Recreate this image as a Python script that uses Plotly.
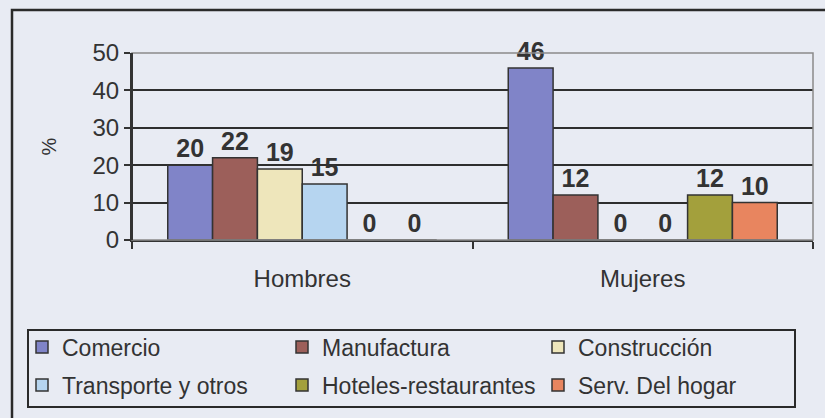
import plotly.graph_objects as go

categories = ["Hombres", "Mujeres"]
series_names = ["Comercio", "Manufactura", "Construcción",
                "Transporte y otros", "Hoteles-restaurantes", "Serv. Del hogar"]
comercio = [20, 46]
manufactura = [22, 12]
construccion = [19, 0]
transporte = [15, 0]
hoteles = [0, 12]
serv_hogar = [0, 10]
series_values = [comercio, manufactura, construccion, transporte, hoteles, serv_hogar]
colors = ["#8084c8", "#9c5f5a", "#eee6bb", "#b6d5f0", "#a3a03c", "#e8855f"]
y_ticks = [0, 10, 20, 30, 40, 50]

BG = "#e8ebf3"
W, H = 825, 418
L, R, T, B = 132, 12, 53, 178
pw, ph = W - L - R, H - T - B


def px(x):
    return (x - L) / pw


def py(y):
    return (H - B - y) / ph


FONT = "Liberation Sans, Arial"
# legend item positions (text start x, row centre y) in pixels
legend_pos = [(62, 347), (322, 347), (578, 347), (62, 385), (322, 385), (578, 385)]
legend_ids = ["legend", "legend2", "legend3", "legend4", "legend5", "legend6"]

fig = go.Figure()
for i, (name, vals, col) in enumerate(zip(series_names, series_values, colors)):
    fig.add_trace(go.Bar(
        x=categories, y=vals, name=name,
        marker=dict(color=col, line=dict(color="#333333", width=1.5)),
        text=[str(v) for v in vals], textposition="outside",
        textfont=dict(family=FONT, size=25, color="#333333", weight="bold"),
        cliponaxis=False, showlegend=True,
        legend=legend_ids[i],
    ))

legend_layout = {}
for lid, (tx, ty) in zip(legend_ids, legend_pos):
    legend_layout[lid] = dict(
        orientation="h", xanchor="left", yanchor="middle",
        x=px(tx - 40), y=py(ty),
        bgcolor="rgba(0,0,0,0)", borderwidth=0,
        font=dict(family=FONT, size=23, color="#333333"),
        itemclick=False, visible=True,
    )

fig.update_layout(
    width=W, height=H,
    showlegend=True,
    margin=dict(l=L, r=R, t=T, b=B, autoexpand=False),
    paper_bgcolor=BG, plot_bgcolor=BG,
    barmode="group", bargap=0.21, bargroupgap=0,
    font=dict(family=FONT, size=23, color="#333333"),
    **legend_layout,
    xaxis=dict(
        showline=True, linecolor="#333333", linewidth=2,
        ticks="outside", tickson="boundaries", ticklen=7, tickwidth=2,
        tickcolor="#333333", showgrid=False,
        ticklabelstandoff=16,
        tickfont=dict(size=24, color="#333333"),
    ),
    yaxis=dict(
        range=[0, 50], tickvals=y_ticks,
        showline=True, linecolor="#333333", linewidth=2,
        ticks="outside", ticklen=6, tickwidth=2, tickcolor="#333333",
        showgrid=True, gridcolor="#2e2e2e", gridwidth=1.5,
        zeroline=False,
        tickfont=dict(size=24, color="#333333"),
        title=dict(text="%", standoff=30, font=dict(size=20, color="#333333")),
    ),
    shapes=[
        # plot area border (light gray)
        dict(type="rect", xref="paper", yref="paper", x0=0, x1=1, y0=0, y1=1,
             line=dict(color="#8a8a8a", width=1.5), layer="above"),
        # legend box
        dict(type="rect", xref="paper", yref="paper",
             x0=px(28), x1=px(795), y0=py(407), y1=py(330),
             line=dict(color="#2a2a2a", width=2), layer="below"),
        # outer frame
        dict(type="rect", xref="paper", yref="paper",
             x0=px(12), x1=px(840), y0=py(430), y1=py(10),
             line=dict(color="#2a2a2a", width=2.5), layer="below"),
    ],
)
# redraw y-axis line over border
fig.add_shape(type="line", xref="paper", yref="paper", x0=0, x1=0, y0=0, y1=1,
              line=dict(color="#333333", width=2), layer="above")

fig.write_html(
    "out.html",
    config={"displayModeBar": False},
    post_script="document.body.style.margin='0';"
                "document.body.style.background='" + BG + "';",
)
